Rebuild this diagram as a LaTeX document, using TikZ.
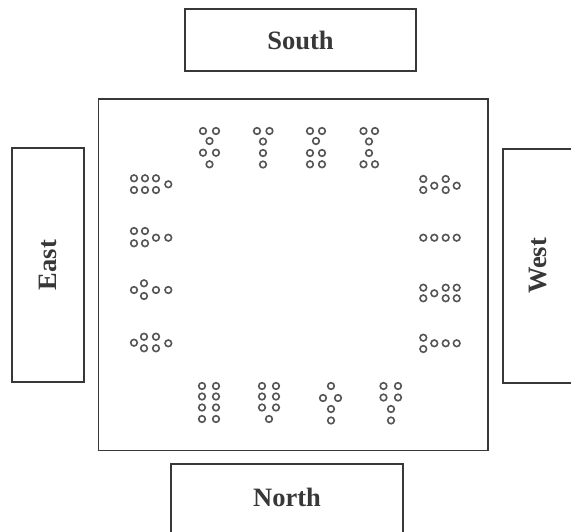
\documentclass[tikz,border=0pt]{standalone}
\usepackage{fontspec}
\setmainfont{Liberation Serif}
\begin{document}
\begin{tikzpicture}[x=1pt,y=-1pt]
\definecolor{ink}{HTML}{383838}
\definecolor{ring}{HTML}{555555}
\tikzset{
  seat/.style={draw=ring, line width=1.6pt},
  roombox/.style={draw=ink, line width=1.1pt, inner sep=0pt},
  side/.style={draw=ink, line width=1.1pt, inner sep=0pt, fill=white,
    font=\fontsize{26.5}{30}\selectfont\bfseries, text=ink},
  sidelabel/.style={inner sep=0pt, font=\fontsize{26.5}{30}\selectfont\bfseries, text=ink},
}
\useasboundingbox (0,0) rectangle (571,531);
\fill[white] (0,0) rectangle (571,531);
\clip (0,0) rectangle (571,531);
% main room
\node[roombox, minimum width=389.5pt, minimum height=351.5pt] (room) at (293.25,274.75) {};
% side boxes
\node[side, minimum width=231pt, minimum height=62pt] (south) at (300.5,40) {South};
\node[side, minimum width=232pt, minimum height=72pt] (north) at (287,500) {};
\node[sidelabel] (northlabel) at (287,497.5) {North};
\node[side, rotate=90, minimum width=234pt, minimum height=72pt] (east) at (48,265) {East};
\node[side, rotate=90, minimum width=234pt, minimum height=70pt] (west) at (538,266) {West};
% seats: top groups
\foreach \x/\y in {203/131,216/131,209.5/141,203/152.7,216/152.7,209.5/164.3,
  257/131,269.5/131,263/141.5,263/153,263/164.5,
  310/131,322/131,316/141,310/153,322/153,310/164.3,322/164.3,
  363.5/131,375/131,369/141.5,369/153,363.5/164.3,375/164.3}
  \draw[seat] (\x,\y) circle[radius=3.3pt];
% bottom groups
\foreach \x/\y in {202/386,216/386,202/396.5,216/396.5,202/407.5,216/407.5,202/419,216/419,
  262/386,276/386,262/396.5,276/396.5,262/407.5,276/407.5,269/419,
  331/386,323/398,338/398,331/409,331/420.5,
  383.5/386,398/386,383.5/397.5,398/397.5,391/409,391/420.5}
  \draw[seat] (\x,\y) circle[radius=3.3pt];
% left groups
\foreach \x/\y in {134/178.3,145/178.3,156/178.3,134/190,145/190,156/190,168.3/184.3,
  134/231,145/231,134/243.3,145/243.3,156/237.7,168.3/237.7,
  134/290,144/283.3,144/296,156/290,168.3/290,
  134/342.7,144/336.7,156/336.7,144/348.3,156/348.3,168.3/343.3}
  \draw[seat] (\x,\y) circle[radius=3.3pt];
% right groups
\foreach \x/\y in {423.3/179,423.3/190,434.3/185.7,445.7/179,445.7/190,456.7/185.7,
  423.3/237.7,434.3/237.7,445.7/237.7,456.7/237.7,
  423.3/287.7,423.3/298.3,434.3/293.3,445.7/287.7,456.7/287.7,445.7/298.3,456.7/298.3,
  423.3/337.7,423.3/349,434.3/343.3,445.7/343.3,456.7/343.3}
  \draw[seat] (\x,\y) circle[radius=3.3pt];
\end{tikzpicture}
\end{document}
